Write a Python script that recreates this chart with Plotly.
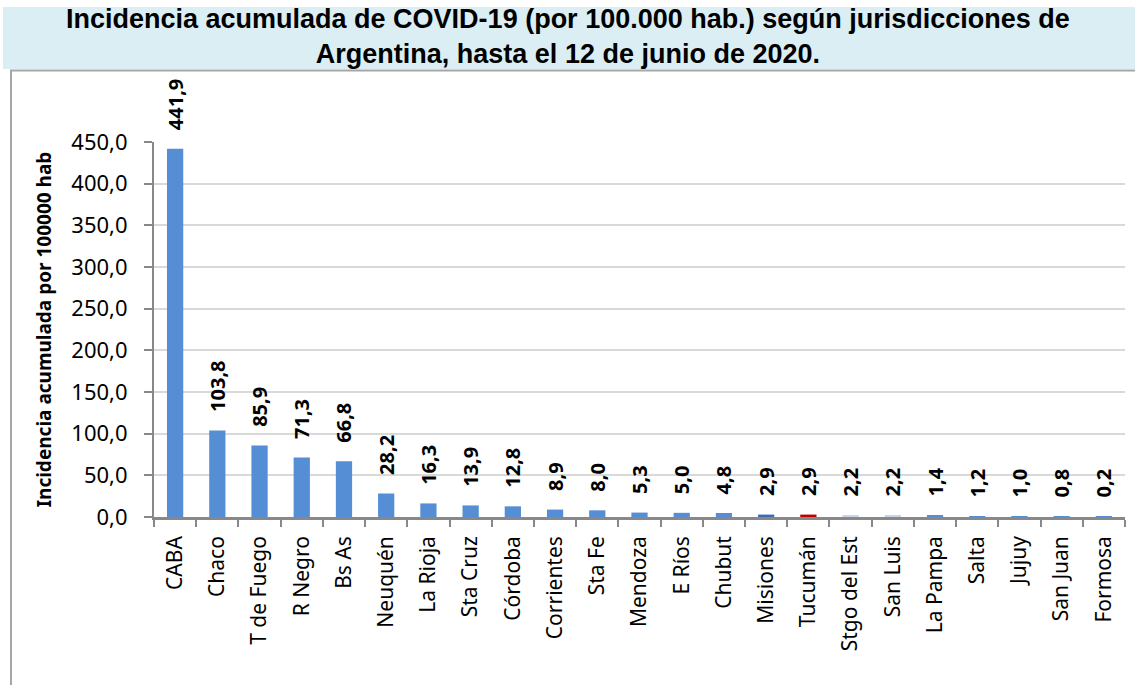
import plotly.graph_objects as go

jurisdicciones = ["CABA", "Chaco", "T de Fuego", "R Negro", "Bs As", "Neuquén", "La Rioja",
                  "Sta Cruz", "Córdoba", "Corrientes", "Sta Fe", "Mendoza", "E Ríos", "Chubut",
                  "Misiones", "Tucumán", "Stgo del Est", "San Luis", "La Pampa", "Salta",
                  "Jujuy", "San Juan", "Formosa"]
incidencia = [441.9, 103.8, 85.9, 71.3, 66.8, 28.2, 16.3, 13.9, 12.8, 8.9, 8.0, 5.3, 5.0, 4.8,
              2.9, 2.9, 2.2, 2.2, 1.4, 1.2, 1.0, 0.8, 0.2]
y_ticks = [0, 50, 100, 150, 200, 250, 300, 350, 400, 450]

BLUE = "#558ED5"
colores = [BLUE] * len(jurisdicciones)
colores[jurisdicciones.index("Misiones")] = "#3F6CAF"
colores[jurisdicciones.index("Tucumán")] = "#C00000"
colores[jurisdicciones.index("Stgo del Est")] = "#C6D6EA"
colores[jurisdicciones.index("San Luis")] = "#C6D6EA"

W, H = 1135, 685
L, R, T, B = 154, 1125, 142, 517


def px(x):
    return (x - L) / (R - L)


def py(y):
    return (B - y) / (B - T)


NB = "\u00a0"
etiquetas = [NB * 3 + f"{v:.1f}".replace(".", ",") for v in incidencia]

fig = go.Figure(go.Bar(
    x=jurisdicciones,
    y=incidencia,
    marker=dict(color=colores, line=dict(width=0)),
    text=etiquetas,
    texttemplate="<b>%{text}</b>",
    textposition="outside",
    textangle=-90,
    constraintext="none",
    cliponaxis=False,
    textfont=dict(family="Noto Sans", size=20, color="black"),
    hoverinfo="skip",
))

fig.update_layout(
    width=W, height=H,
    margin=dict(l=L, r=W - R, t=T, b=H - B),
    paper_bgcolor="white",
    plot_bgcolor="white",
    separators=",.",
    showlegend=False,
    bargap=0.615,
    font=dict(family="Noto Sans", size=20, color="black"),
    shapes=[
        dict(type="rect", xref="paper", yref="paper", layer="below",
             x0=px(3), x1=px(1135), y0=py(7), y1=py(69),
             fillcolor="#DAEEF3", line=dict(width=0)),
        dict(type="line", xref="paper", yref="paper",
             x0=px(10), x1=px(1135), y0=py(70.5), y1=py(70.5),
             line=dict(color="#A6A6A6", width=2)),
        dict(type="line", xref="paper", yref="paper",
             x0=px(11), x1=px(11), y0=py(70), y1=py(685),
             line=dict(color="#A6A6A6", width=2)),
    ],
    annotations=[
        dict(xref="paper", yref="paper", x=px(568), y=py(37),
             xanchor="center", yanchor="middle", showarrow=False,
             text="<b>Incidencia acumulada de COVID-19 (por 100.000 hab.) según jurisdicciones de<br>"
                  "Argentina, hasta el 12 de junio de 2020.</b>",
             font=dict(family="Liberation Sans", size=27, color="black")),
    ],
)

fig.update_xaxes(
    tickangle=-90,
    tickfont=dict(family="Noto Sans", size=21, color="black"),
    showline=True, linecolor="#888888", linewidth=2.5,
    ticks="outside", tickson="boundaries", ticklen=7, tickcolor="#888888", tickwidth=1.5,
    ticklabelstandoff=8,
    showgrid=False,
)

fig.update_yaxes(
    range=[0, 450],
    tickvals=y_ticks,
    tickformat=".1f",
    tickfont=dict(family="Noto Sans", size=22, color="black"),
    showline=True, linecolor="#888888", linewidth=2,
    ticks="outside", ticklen=8, tickcolor="#888888", tickwidth=1.5,
    ticklabelstandoff=12,
    showgrid=True, gridcolor="#D9D9D9", gridwidth=1.5,
    zeroline=False,
    title=dict(text="<b>Incidencia acumulada por 100000 hab</b>",
               font=dict(family="Noto Sans", size=19, color="black"), standoff=15),
)

fig.write_html("out.html", config={"displayModeBar": False},
               post_script="document.body.style.margin='0';")
